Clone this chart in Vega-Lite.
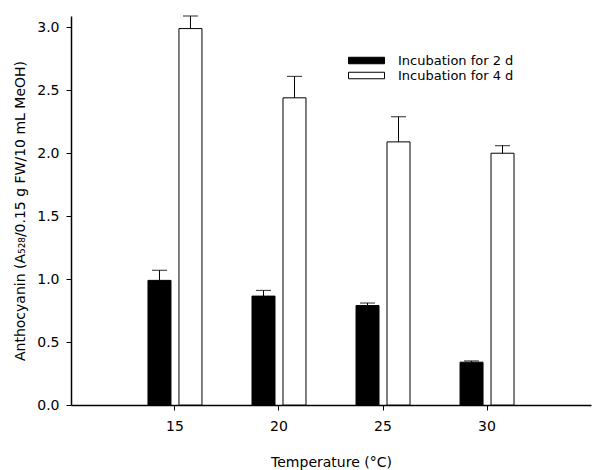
{
  "$schema": "https://vega.github.io/schema/vega-lite/v6.json",
  "width": 520,
  "height": 389,
  "autosize": {"type": "none"},
  "padding": {"left": 71, "top": 16, "right": 1, "bottom": 65},
  "background": "white",
  "config": {
    "view": {"stroke": null},
    "font": "DejaVu Sans",
    "axis": {"grid": false, "domainColor": "black", "tickColor": "black", "labelColor": "black", "titleColor": "black", "labelFont": "DejaVu Sans", "titleFont": "DejaVu Sans", "titleFontWeight": "normal"},
    "legend": {"labelFont": "DejaVu Sans"}
  },
  "data": {
    "values": [
      {"temp": "15", "series": "Incubation for 2 d", "value": 0.99, "err": 1.07},
      {"temp": "15", "series": "Incubation for 4 d", "value": 2.99, "err": 3.09},
      {"temp": "20", "series": "Incubation for 2 d", "value": 0.865, "err": 0.91},
      {"temp": "20", "series": "Incubation for 4 d", "value": 2.44, "err": 2.61},
      {"temp": "25", "series": "Incubation for 2 d", "value": 0.79, "err": 0.81},
      {"temp": "25", "series": "Incubation for 4 d", "value": 2.09, "err": 2.29},
      {"temp": "30", "series": "Incubation for 2 d", "value": 0.34, "err": 0.35},
      {"temp": "30", "series": "Incubation for 4 d", "value": 2.0, "err": 2.06}
    ]
  },
  "encoding": {
    "x": {
      "field": "temp", "type": "ordinal",
      "scale": {"type": "band", "paddingInner": 0.481, "paddingOuter": 0.74},
      "axis": {"title": "Temperature (°C)", "labelAngle": 0, "labelFontSize": 14, "titleFontSize": 14, "tickSize": 5, "labelPadding": 9, "titlePadding": 22, "domainWidth": 1.5}
    },
    "xOffset": {"field": "series", "type": "nominal", "scale": {"paddingInner": 0.258, "paddingOuter": 0}}
  },
  "layer": [
    {
      "mark": {"type": "bar", "stroke": "black", "strokeWidth": 1},
      "encoding": {
        "y": {
          "field": "value", "type": "quantitative",
          "scale": {"domain": [0, 3.09], "nice": false},
          "axis": {"title": "Anthocyanin (A₅₂₈/0.15 g FW/10 mL MeOH)", "values": [0, 0.5, 1, 1.5, 2, 2.5, 3], "format": ".1f", "labelFontSize": 14, "titleFontSize": 14, "tickSize": 5, "labelPadding": 7, "titlePadding": 9, "domainWidth": 1.5}
        },
        "fill": {
          "field": "series", "type": "nominal",
          "scale": {"domain": ["Incubation for 2 d", "Incubation for 4 d"], "range": ["black", "white"]},
          "legend": {"title": null, "orient": "none", "legendX": 289, "legendY": 38, "symbolType": "M-3.6,-0.65H3.6V0.65H-3.6Z", "symbolSize": 100, "symbolStrokeColor": "black", "symbolStrokeWidth": 1, "labelFontSize": 13, "labelColor": "black", "rowPadding": 1, "labelOffset": 25, "padding": 0}
        }
      }
    },
    {
      "mark": {"type": "rule", "color": "black", "strokeWidth": 1},
      "encoding": {
        "y": {"field": "value", "type": "quantitative"},
        "y2": {"field": "err"}
      }
    },
    {
      "mark": {"type": "tick", "color": "black", "size": 15, "thickness": 1.2},
      "encoding": {
        "y": {"field": "err", "type": "quantitative"}
      }
    }
  ]
}
